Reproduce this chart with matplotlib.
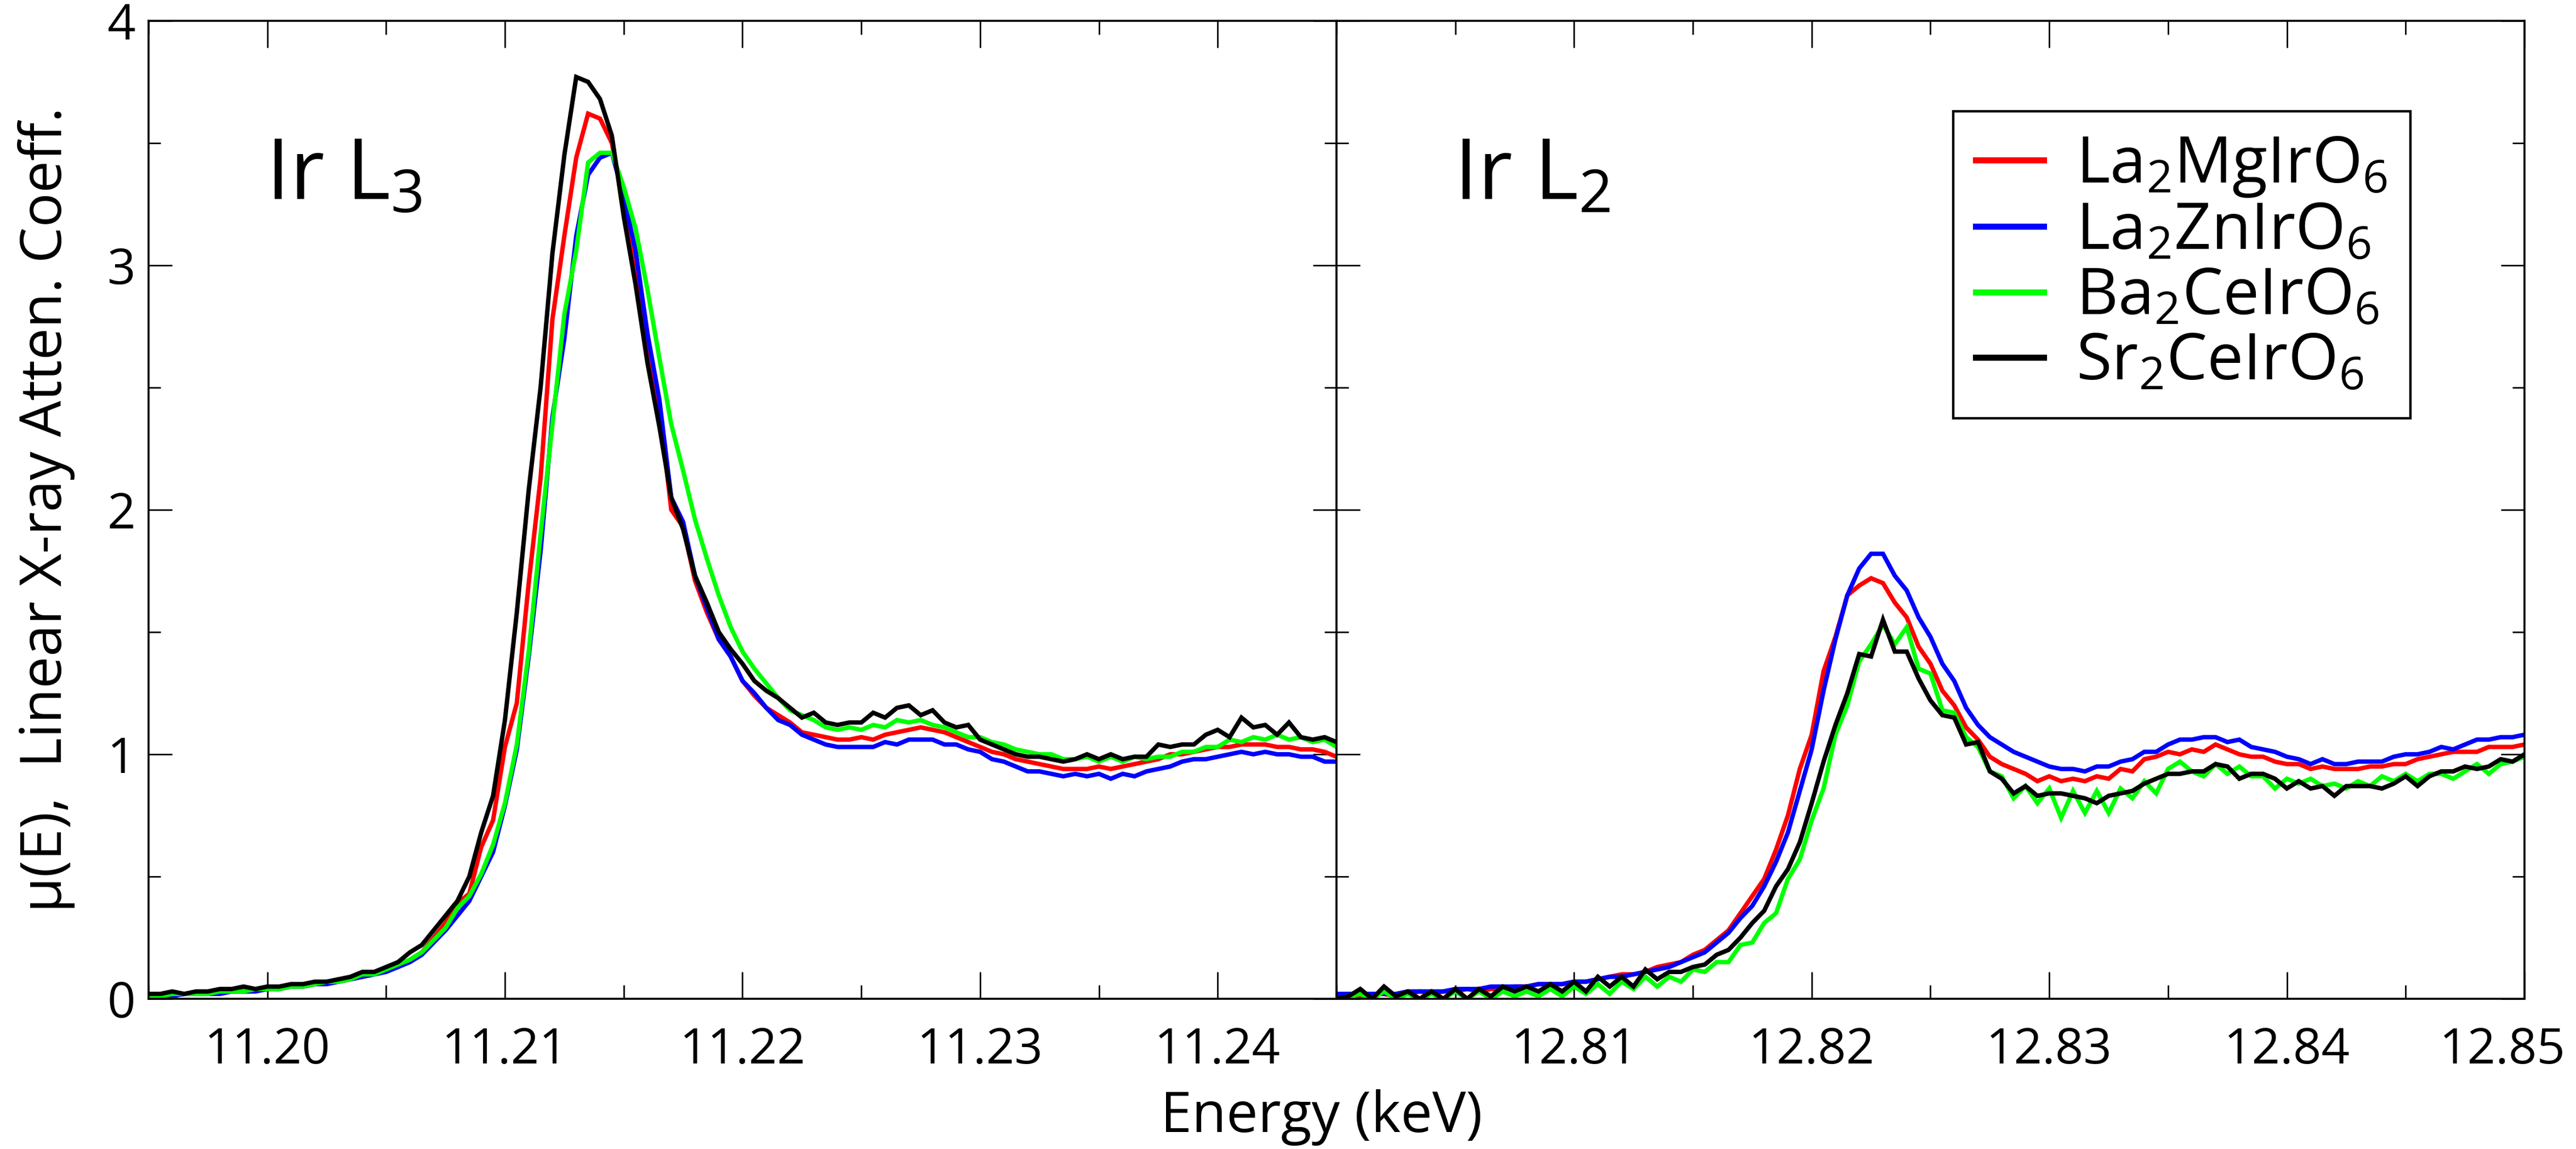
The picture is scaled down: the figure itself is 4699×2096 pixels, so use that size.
import numpy as np
import matplotlib
matplotlib.use("Agg")
import matplotlib.pyplot as plt
from matplotlib.ticker import MultipleLocator
from matplotlib.lines import Line2D
from matplotlib.transforms import ScaledTranslation

plt.rcParams['font.family'] = ['Open Sans', 'DejaVu Sans']
plt.rcParams['mathtext.default'] = 'regular'

# ---------------- data ----------------
series_names = ["La$_2$MgIrO$_6$", "La$_2$ZnIrO$_6$", "Ba$_2$CeIrO$_6$", "Sr$_2$CeIrO$_6$"]
series_colors = ["#ff0000", "#0000ff", "#00ff00", "#000000"]

L3_energy = np.round(np.linspace(11.195, 11.245, 101), 4)
L2_energy = np.round(np.linspace(12.800, 12.850, 101), 4)

L3_La2MgIrO6 = [0.01,0.01,0.02,0.02,0.02,0.02,0.03,0.03,0.03,0.04,
                0.04,0.04,0.05,0.05,0.06,0.07,0.07,0.08,0.09,0.10,
                0.12,0.13,0.16,0.19,0.25,0.31,0.39,0.43,0.62,0.73,
                1.03,1.21,1.70,2.13,2.78,3.12,3.44,3.62,3.60,3.50,
                3.25,3.00,2.66,2.42,2.00,1.93,1.71,1.58,1.47,1.40,
                1.30,1.24,1.19,1.16,1.13,1.09,1.08,1.07,1.06,1.06,
                1.07,1.06,1.08,1.09,1.10,1.11,1.10,1.09,1.07,1.05,
                1.03,1.01,1.00,0.98,0.97,0.96,0.95,0.94,0.94,0.94,
                0.95,0.94,0.95,0.96,0.97,0.98,1.00,1.00,1.01,1.02,
                1.03,1.03,1.04,1.04,1.04,1.03,1.03,1.02,1.02,1.01,0.99]
L3_La2ZnIrO6 = [0.01,0.01,0.01,0.02,0.02,0.02,0.02,0.03,0.03,0.03,
                0.04,0.04,0.05,0.05,0.06,0.06,0.07,0.08,0.09,0.10,
                0.11,0.13,0.15,0.18,0.23,0.28,0.34,0.40,0.50,0.60,
                0.79,1.02,1.40,1.83,2.38,2.70,3.12,3.37,3.44,3.46,
                3.28,3.06,2.72,2.45,2.05,1.95,1.73,1.60,1.47,1.40,
                1.30,1.25,1.19,1.14,1.12,1.08,1.06,1.04,1.03,1.03,
                1.03,1.03,1.05,1.04,1.06,1.06,1.06,1.04,1.04,1.02,
                1.01,0.98,0.97,0.95,0.93,0.93,0.92,0.91,0.92,0.91,
                0.92,0.90,0.92,0.91,0.93,0.94,0.95,0.97,0.98,0.98,
                0.99,1.00,1.01,1.00,1.01,1.00,1.00,0.99,0.99,0.97,0.97]
L3_Ba2CeIrO6 = [0.01,0.01,0.02,0.02,0.02,0.02,0.03,0.03,0.03,0.04,
                0.04,0.04,0.05,0.05,0.06,0.07,0.07,0.08,0.10,0.10,
                0.12,0.14,0.16,0.19,0.24,0.29,0.37,0.42,0.51,0.63,
                0.80,1.04,1.42,1.90,2.35,2.80,3.06,3.42,3.46,3.46,
                3.32,3.15,2.90,2.62,2.35,2.16,1.96,1.80,1.65,1.52,
                1.42,1.35,1.29,1.23,1.18,1.16,1.14,1.11,1.10,1.11,
                1.10,1.12,1.11,1.14,1.13,1.14,1.12,1.11,1.09,1.07,
                1.07,1.05,1.04,1.02,1.01,1.00,1.00,0.98,0.98,0.99,
                0.97,0.99,0.97,0.99,0.98,0.99,0.99,1.01,1.01,1.03,
                1.03,1.06,1.05,1.07,1.06,1.08,1.06,1.07,1.05,1.06,1.03]
L3_Sr2CeIrO6 = [0.02,0.02,0.03,0.02,0.03,0.03,0.04,0.04,0.05,0.04,
                0.05,0.05,0.06,0.06,0.07,0.07,0.08,0.09,0.11,0.11,
                0.13,0.15,0.19,0.22,0.28,0.34,0.40,0.50,0.68,0.83,
                1.14,1.58,2.08,2.50,3.05,3.45,3.77,3.75,3.68,3.53,
                3.20,2.92,2.60,2.34,2.05,1.92,1.73,1.62,1.50,1.43,
                1.37,1.30,1.26,1.23,1.19,1.15,1.17,1.13,1.12,1.13,
                1.13,1.17,1.15,1.19,1.20,1.16,1.18,1.13,1.11,1.12,
                1.06,1.04,1.02,1.00,0.99,0.99,0.98,0.97,0.98,1.00,
                0.98,1.00,0.98,0.99,0.99,1.04,1.03,1.04,1.04,1.08,
                1.10,1.07,1.15,1.11,1.12,1.08,1.13,1.07,1.06,1.07,1.05]

L2_La2MgIrO6 = [0.01,0.02,0.01,0.02,0.02,0.01,0.02,0.03,0.02,0.03,
                0.03,0.04,0.03,0.04,0.04,0.05,0.05,0.06,0.06,0.06,
                0.07,0.07,0.08,0.09,0.10,0.10,0.11,0.13,0.14,0.15,
                0.18,0.20,0.24,0.28,0.35,0.42,0.49,0.61,0.75,0.94,
                1.08,1.34,1.48,1.65,1.69,1.72,1.70,1.62,1.56,1.44,
                1.37,1.26,1.20,1.11,1.06,0.99,0.96,0.94,0.92,0.89,
                0.91,0.89,0.90,0.89,0.91,0.90,0.94,0.93,0.98,0.99,
                1.01,1.00,1.02,1.01,1.04,1.02,1.00,0.99,0.99,0.97,
                0.96,0.96,0.94,0.95,0.94,0.94,0.94,0.95,0.95,0.96,
                0.96,0.98,0.99,1.00,1.01,1.01,1.01,1.03,1.03,1.03,1.04]
L2_La2ZnIrO6 = [0.02,0.02,0.02,0.02,0.02,0.02,0.03,0.03,0.03,0.03,
                0.04,0.04,0.04,0.05,0.05,0.05,0.05,0.06,0.06,0.06,
                0.07,0.07,0.08,0.09,0.09,0.10,0.11,0.12,0.13,0.15,
                0.17,0.19,0.23,0.27,0.33,0.38,0.46,0.56,0.68,0.85,
                1.02,1.26,1.47,1.65,1.76,1.82,1.82,1.73,1.67,1.56,
                1.48,1.37,1.30,1.19,1.12,1.07,1.04,1.01,0.99,0.97,
                0.95,0.94,0.94,0.93,0.95,0.95,0.97,0.98,1.01,1.01,
                1.04,1.06,1.06,1.07,1.07,1.05,1.06,1.03,1.02,1.01,
                0.99,0.98,0.96,0.98,0.96,0.96,0.97,0.97,0.97,0.99,
                1.00,1.00,1.01,1.03,1.02,1.04,1.06,1.06,1.07,1.07,1.08]
L2_Ba2CeIrO6 = [0.00,0.01,0.02,0.00,0.03,0.00,0.02,0.00,0.02,0.00,
                0.03,0.00,0.03,0.00,0.03,0.01,0.03,0.01,0.04,0.01,
                0.05,0.02,0.06,0.02,0.07,0.04,0.09,0.05,0.09,0.07,
                0.12,0.11,0.15,0.15,0.22,0.23,0.31,0.35,0.49,0.57,
                0.73,0.86,1.08,1.20,1.38,1.45,1.53,1.45,1.52,1.35,
                1.33,1.18,1.17,1.07,1.03,0.93,0.91,0.82,0.87,0.80,
                0.86,0.74,0.85,0.76,0.85,0.76,0.86,0.82,0.89,0.84,
                0.94,0.97,0.93,0.91,0.96,0.92,0.95,0.91,0.91,0.86,
                0.90,0.88,0.90,0.87,0.88,0.86,0.89,0.87,0.91,0.89,
                0.92,0.89,0.92,0.92,0.90,0.93,0.96,0.92,0.96,0.97,0.99]
L2_Sr2CeIrO6 = [0.00,0.01,0.04,0.00,0.05,0.01,0.03,0.00,0.03,0.00,
                0.04,0.00,0.04,0.01,0.05,0.03,0.05,0.03,0.06,0.03,
                0.07,0.03,0.09,0.05,0.09,0.05,0.12,0.08,0.11,0.11,
                0.13,0.14,0.18,0.20,0.25,0.31,0.36,0.46,0.53,0.64,
                0.80,0.97,1.12,1.25,1.41,1.40,1.55,1.42,1.42,1.31,
                1.22,1.16,1.15,1.04,1.05,0.93,0.90,0.84,0.87,0.83,
                0.84,0.84,0.83,0.82,0.80,0.83,0.84,0.85,0.88,0.90,
                0.92,0.92,0.93,0.93,0.96,0.95,0.90,0.92,0.92,0.90,
                0.86,0.89,0.86,0.87,0.83,0.87,0.87,0.87,0.86,0.88,
                0.91,0.87,0.91,0.93,0.93,0.95,0.94,0.95,0.98,0.97,1.00]

L3_series = [L3_La2MgIrO6, L3_La2ZnIrO6, L3_Ba2CeIrO6, L3_Sr2CeIrO6]
L2_series = [L2_La2MgIrO6, L2_La2ZnIrO6, L2_Ba2CeIrO6, L2_Sr2CeIrO6]

L3_ticks = [11.20, 11.21, 11.22, 11.23, 11.24]
L3_ticklabels = ["11.20", "11.21", "11.22", "11.23", "11.24"]
L2_ticks = [12.81, 12.82, 12.83, 12.84, 12.85]
L2_ticklabels = ["12.81", "12.82", "12.83", "12.84", "12.85"]
y_ticks = [0, 1, 2, 3, 4]
y_ticklabels = ["0", "1", "2", "3", "4"]

# ---------------- figure ----------------
fig = plt.figure(figsize=(46.99, 20.96), dpi=100)
axL = fig.add_axes([0.05767, 0.13073, 0.46116, 0.8512])
axR = fig.add_axes([0.51883, 0.13073, 0.46116, 0.8512])

for ys, c in zip(L3_series, series_colors):
    axL.plot(L3_energy, ys, color=c, lw=5.8, solid_joinstyle='miter')
for ys, c in zip(L2_series, series_colors):
    axR.plot(L2_energy, ys, color=c, lw=5.8, solid_joinstyle='miter')

axL.set_xlim(11.195, 11.245)
axR.set_xlim(12.800, 12.850)
for ax in (axL, axR):
    ax.set_ylim(0, 4)
    ax.set_yticks(y_ticks, labels=y_ticklabels)
    ax.yaxis.set_minor_locator(MultipleLocator(0.5))
    ax.xaxis.set_minor_locator(MultipleLocator(0.005))
    ax.tick_params(which='both', direction='in', top=True, right=True,
                   bottom=True, left=True, width=2.0, colors='black')
    ax.tick_params(axis='x', which='major', length=35, pad=36, labelsize=65)
    ax.tick_params(axis='x', which='minor', length=18)
    ax.tick_params(axis='y', which='major', length=31, pad=17, labelsize=65)
    ax.tick_params(axis='y', which='minor', length=16)
    for s in ax.spines.values():
        s.set_linewidth(2.6)

axL.set_xticks(L3_ticks, labels=L3_ticklabels)
axR.set_xticks(L2_ticks, labels=L2_ticklabels)
axR.tick_params(labelleft=False)

axL.text(0.0988, 0.8176, "Ir L$_3$", transform=axL.transAxes, fontsize=111,
         ha='left', va='baseline')
axR.text(0.0988, 0.8176, "Ir L$_2$", transform=axR.transAxes, fontsize=111,
         ha='left', va='baseline')

axL.set_ylabel("\u03bc(E),  Linear X-ray Atten. Coeff.", fontsize=75)
axL.yaxis.set_label_coords(-0.062, 0.5)
fig.text(0.513, 0.0148, "Energy (keV)", ha='center', va='baseline', fontsize=74)

handles = [Line2D([], [], color=c, lw=8) for c in series_colors]
leg = axR.legend(handles, series_names, loc='upper left',
                 bbox_to_anchor=(0.5191, 0.9074), borderaxespad=0,
                 fontsize=85, frameon=True, fancybox=False, edgecolor='black',
                 framealpha=1, handlelength=1.05, handletextpad=0.5,
                 labelspacing=0.02, borderpad=0.35)
leg.get_frame().set_linewidth(3.2)

# keep the last tick label of the right panel inside the figure
last_lab = axR.xaxis.get_major_ticks()[-1].label1
last_lab.set_transform(last_lab.get_transform() +
                       ScaledTranslation(-0.4, 0, fig.dpi_scale_trans))

fig.savefig("out.png", dpi=100)
